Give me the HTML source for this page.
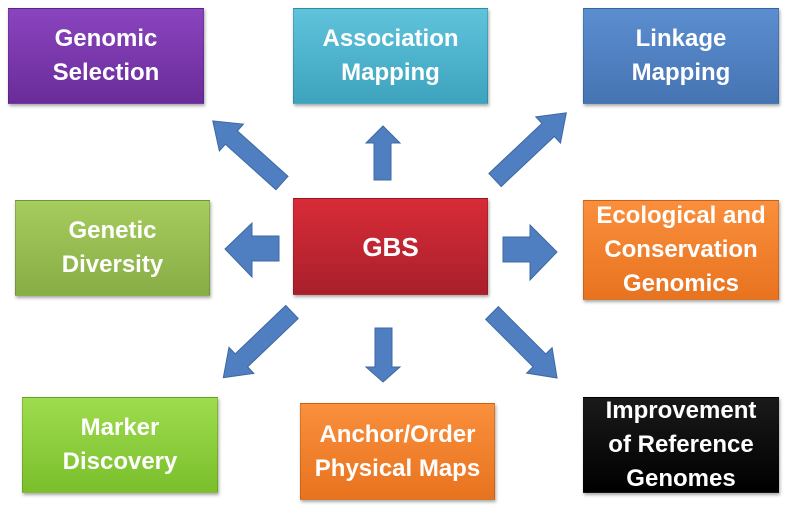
<!DOCTYPE html>
<html><head><style>
body{margin:0;width:795px;height:523px;background:#fff;position:relative;overflow:hidden;font-family:"Liberation Sans",sans-serif}
.b{position:absolute;display:flex;align-items:center;justify-content:center;text-align:center;color:#fff;font-weight:bold;font-size:24px;line-height:34px;box-shadow:1px 2px 3px rgba(0,0,0,.35);box-sizing:border-box;border:1px solid rgba(0,0,0,.15);white-space:nowrap}
</style></head><body>
<svg width="795" height="523" style="position:absolute;left:0;top:0">
<g fill="#4f7fc0" stroke="#3d68a3" stroke-width="1">
<polygon points="374,180 391,180 391,143 400,143 383,126 366,143 374,143"/>
<polygon points="279,236 279,261 252,261 252,277 225,249 252,223 252,236"/>
<polygon points="503,237 503,262 530,262 530,280 557,252 530,225 530,237"/>
<polygon points="375,328 392,328 392,367 400,367 383,382 366,367 375,367"/>
<g transform="translate(282,183) rotate(221.9)"><polygon points="0,-9 68,-9 68,-18 93,0 68,18 68,9 0,9"/></g>
<g transform="translate(495,180) rotate(-43.3)"><polygon points="0,-9 73,-9 73,-18 98,0 73,18 73,9 0,9"/></g>
<g transform="translate(292,312) rotate(136.3)"><polygon points="0,-9 70,-9 70,-18 95,0 70,18 70,9 0,9"/></g>
<g transform="translate(492,313) rotate(45)"><polygon points="0,-9 67,-9 67,-18 92,0 67,18 67,9 0,9"/></g>
</g></svg>
<div class="b" style="left:8px;top:8px;width:196px;height:96px;background:linear-gradient(#8a44be,#6a2c9a)">Genomic<br>Selection</div>
<div class="b" style="left:293px;top:8px;width:195px;height:96px;background:linear-gradient(#5fc3dc,#3ea3bd)">Association<br>Mapping</div>
<div class="b" style="left:583px;top:8px;width:196px;height:96px;background:linear-gradient(#5b8ed0,#4674b3)">Linkage<br>Mapping</div>
<div class="b" style="left:15px;top:200px;width:195px;height:96px;background:linear-gradient(#a6cc5e,#88ad45)">Genetic<br>Diversity</div>
<div class="b" style="left:293px;top:198px;width:195px;height:97px;background:linear-gradient(#d92b38,#a8202b);font-size:26px">GBS</div>
<div class="b" style="left:583px;top:200px;width:196px;height:100px;background:linear-gradient(#fa8f3c,#e8731f)">Ecological and<br>Conservation<br>Genomics</div>
<div class="b" style="left:22px;top:397px;width:196px;height:96px;background:linear-gradient(#9ddc4e,#7bbf2c)">Marker<br>Discovery</div>
<div class="b" style="left:300px;top:403px;width:195px;height:97px;background:linear-gradient(#fa8f3c,#e8731f)">Anchor/Order<br>Physical Maps</div>
<div class="b" style="left:583px;top:397px;width:196px;height:96px;background:linear-gradient(#1a1a1a,#000)">Improvement<br>of Reference<br>Genomes</div>
</body></html>
